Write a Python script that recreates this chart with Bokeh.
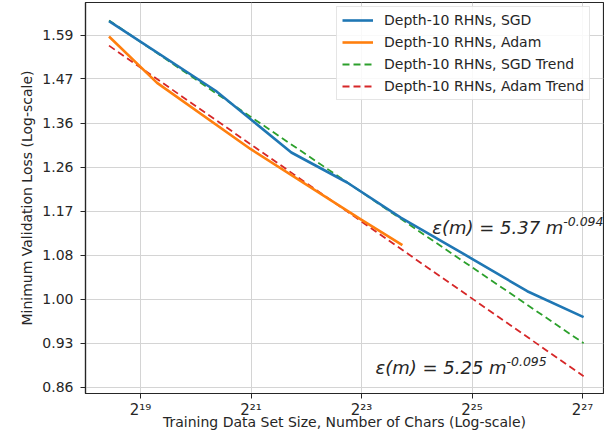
import numpy as np
from bokeh.plotting import figure
from bokeh.models import FixedTicker, Legend, LegendItem, Label, Range1d
from bokeh.embed import file_html
from bokeh.resources import INLINE

# ---- data ----
# training-set size given as log2(number of chars)
sgd_log2_size = [18.43, 20.36, 21.73, 22.74, 23.71, 24.97, 26.00, 27.02]
sgd_loss = [1.628, 1.442, 1.295, 1.229, 1.156, 1.078, 1.017, 0.972]

adam_log2_size = [18.43, 19.30, 20.99, 22.98, 23.74]
adam_loss = [1.585, 1.462, 1.303, 1.153, 1.102]

sgd_trend_log2_size = [18.43, 27.02]
sgd_trend_loss = [1.630, 0.929]

adam_trend_log2_size = [18.43, 27.02]
adam_trend_loss = [1.560, 0.877]

x_tick_exponents = [19, 21, 23, 25, 27]
x_tick_labels = ["2\u00b9\u2079", "2\u00b2\u00b9", "2\u00b2\u00b3", "2\u00b2\u2075", "2\u00b2\u2077"]
y_ticks = [0.86, 0.929, 1.003, 1.083, 1.169, 1.262, 1.363, 1.472, 1.589]
y_tick_labels = ["0.86", "0.93", "1.00", "1.08", "1.17", "1.26", "1.36", "1.47", "1.59"]

series_names = ["Depth-10 RHNs, SGD", "Depth-10 RHNs, Adam",
                "Depth-10 RHNs, SGD Trend", "Depth-10 RHNs, Adam Trend"]
fit_texts = [("\u03b5(m) = 5.37 m", "-0.094"), ("\u03b5(m) = 5.25 m", "-0.095")]
x_title = "Training Data Set Size, Number of Chars (Log-scale)"
y_title = "Minimum Validation Loss (Log-scale)"

FONT = "DejaVu Sans"
TXT = "#262626"


def pow2(a):
    return list(np.power(2.0, np.asarray(a, dtype=float)))


p = figure(width=604, height=432, x_axis_type="log", y_axis_type="log",
           x_range=Range1d(2 ** 18.0045, 2 ** 27.38),
           y_range=Range1d(0.851, 1.6817),
           output_backend="svg", toolbar_location=None,
           min_border_left=85, min_border_right=1,
           min_border_top=2, min_border_bottom=39)

p.background_fill_color = "white"
p.border_fill_color = "white"
p.outline_line_color = TXT
p.outline_line_width = 1.2

# axes
p.xaxis.ticker = FixedTicker(ticks=pow2(x_tick_exponents))
p.xaxis.major_label_overrides = {2 ** e: lab for e, lab in zip(x_tick_exponents, x_tick_labels)}
p.yaxis.ticker = FixedTicker(ticks=y_ticks)
p.yaxis.major_label_overrides = {t: lab for t, lab in zip(y_ticks, y_tick_labels)}
p.xgrid.ticker = FixedTicker(ticks=pow2(x_tick_exponents))
p.ygrid.ticker = FixedTicker(ticks=y_ticks)

p.xaxis.axis_label = x_title
p.yaxis.axis_label = y_title
for ax in (p.xaxis, p.yaxis):
    ax.axis_label_text_font = FONT
    ax.axis_label_text_font_style = "normal"
    ax.axis_label_text_font_size = "14px"
    ax.axis_label_text_color = TXT
    ax.major_label_text_font = FONT
    ax.major_label_text_font_size = "14px"
    ax.major_label_text_color = TXT
    ax.axis_line_color = TXT
    ax.axis_line_width = 1.2
    ax.major_tick_line_color = TXT
    ax.major_tick_out = 5
    ax.major_tick_in = 0
    ax.minor_tick_line_color = None
p.xaxis.major_label_text_font_size = "15px"
p.xaxis.axis_label_text_line_height = 1.0
p.yaxis.major_label_standoff = 7
p.xaxis.major_label_standoff = 2
p.yaxis.axis_label_standoff = 4
p.xaxis.axis_label_standoff = -8

p.grid.grid_line_color = "#d4d4d4"
p.grid.grid_line_width = 1
p.grid.minor_grid_line_color = None

# trend lines first, data lines on top
r_sgd_trend = p.line(pow2(sgd_trend_log2_size), sgd_trend_loss, line_color="#2ca02c",
                     line_width=1.8, line_dash="7 4")
r_adam_trend = p.line(pow2(adam_trend_log2_size), adam_trend_loss, line_color="#d62728",
                      line_width=1.8, line_dash="7 4")
r_sgd = p.line(pow2(sgd_log2_size), sgd_loss, line_color="#1f77b4", line_width=2.6)
r_adam = p.line(pow2(adam_log2_size), adam_loss, line_color="#ff7f0e", line_width=2.6)

legend = Legend(items=[
    LegendItem(label=series_names[0], renderers=[r_sgd]),
    LegendItem(label=series_names[1], renderers=[r_adam]),
    LegendItem(label=series_names[2], renderers=[r_sgd_trend]),
    LegendItem(label=series_names[3], renderers=[r_adam_trend]),
])
legend.location = (251, 293)
legend.margin = 0
legend.padding = 5
legend.spacing = 6
legend.label_height = 16
legend.glyph_height = 16
legend.glyph_width = 31
legend.label_standoff = 11
legend.label_text_font = FONT
legend.label_text_font_size = "14px"
legend.label_text_color = TXT
legend.border_line_color = "#cccccc"
legend.border_line_width = 1
legend.background_fill_alpha = 0.85
p.add_layout(legend)

# fitted power-law annotations
fit_pos = [(2 ** 24.28, 1.1355), (2 ** 23.253, 0.8909)]
for (x0, y0), (main, sup) in zip(fit_pos, fit_texts):
    p.add_layout(Label(x=x0, y=y0, text=main, text_font=FONT, text_font_style="italic",
                       text_font_size="18px", text_color=TXT, text_baseline="alphabetic"))
    p.add_layout(Label(x=x0, y=y0, x_offset=131, y_offset=6, text=sup, text_font=FONT,
                       text_font_style="italic", text_font_size="12.5px", text_color=TXT,
                       text_baseline="alphabetic"))

open("out.html", "w").write(file_html(p, INLINE))
